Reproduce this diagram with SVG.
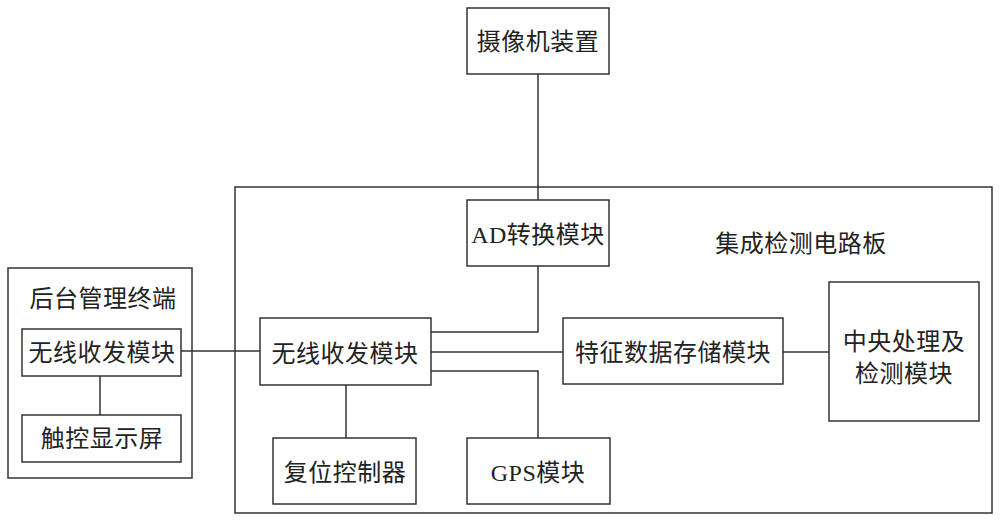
<svg xmlns="http://www.w3.org/2000/svg" width="1000" height="522" viewBox="0 0 1000 522">
<style>
rect{fill:#fff;stroke:#333;stroke-width:1.5}
.c line,.c polyline{fill:none;stroke:#333;stroke-width:1.5}
text{font-family:"Liberation Serif","Noto Sans CJK SC",sans-serif;font-size:24px;letter-spacing:0.5px;fill:#222;text-anchor:middle}
</style>
<rect width="1000" height="522" style="fill:#fff;stroke:none"/>
<g id="board"><rect x="235" y="187" width="757" height="326"/><text x="801" y="252">集成检测电路板</text></g>
<g id="backend"><rect x="8" y="268" width="184" height="210"/><text x="103" y="307">后台管理终端</text></g>
<g class="c" id="connectors">
<line x1="538" y1="74" x2="538" y2="200"/>
<polyline points="431,332 538,332 538,266"/>
<line x1="431" y1="352" x2="563" y2="352"/>
<polyline points="431,371 538,371 538,438"/>
<line x1="346" y1="385" x2="346" y2="438"/>
<line x1="783" y1="352" x2="829" y2="352"/>
<line x1="181" y1="351" x2="260" y2="351"/>
<line x1="100" y1="376" x2="100" y2="415"/>
</g>
<g id="camera"><rect x="467" y="8" width="142" height="66"/><text x="538" y="50">摄像机装置</text></g>
<g id="ad"><rect x="467" y="200" width="142" height="66"/><text x="538" y="243">AD转换模块</text></g>
<g id="wireless"><rect x="260" y="318" width="171" height="67"/><text x="345" y="362">无线收发模块</text></g>
<g id="feature"><rect x="563" y="318" width="220" height="66"/><text x="673" y="361">特征数据存储模块</text></g>
<g id="cpu"><rect x="829" y="282" width="150" height="139"/><text x="904" y="350">中央处理及</text><text x="904" y="382">检测模块</text></g>
<g id="reset"><rect x="273" y="438" width="143" height="66"/><text x="345" y="481">复位控制器</text></g>
<g id="gps"><rect x="467" y="438" width="143" height="66"/><text x="538" y="481">GPS模块</text></g>
<g id="bwireless"><rect x="22" y="329" width="159" height="47"/><text x="102" y="361">无线收发模块</text></g>
<g id="touch"><rect x="22" y="415" width="159" height="47"/><text x="102" y="447">触控显示屏</text></g>
</svg>
